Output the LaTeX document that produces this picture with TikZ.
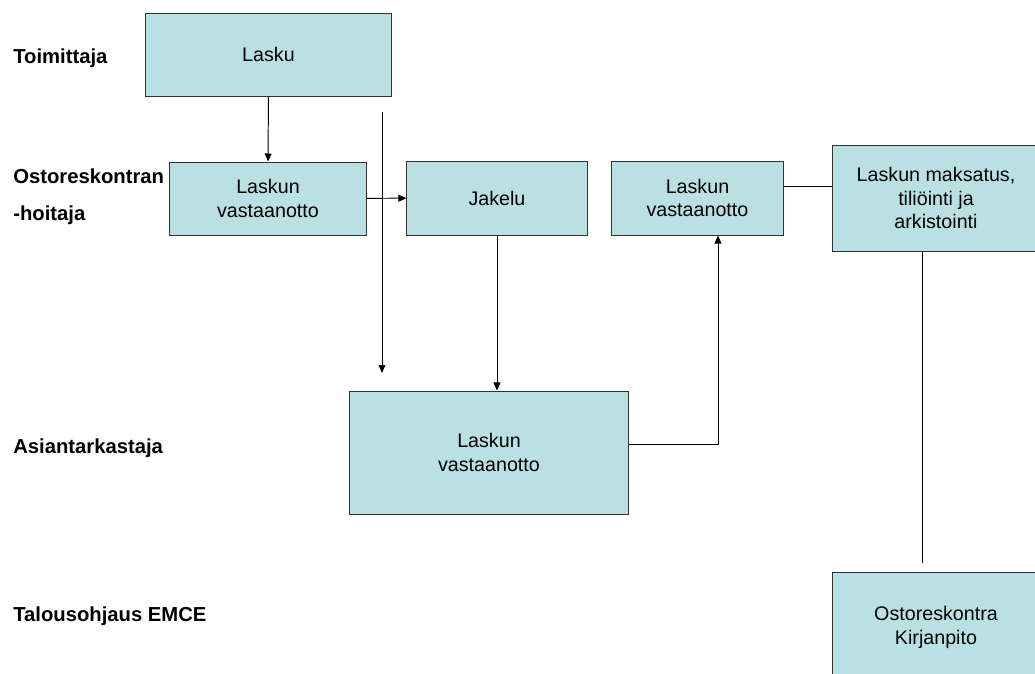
\documentclass[tikz,border=0pt]{standalone}
\usepackage{fontspec}
\setmainfont{Liberation Sans}
\usepackage{xcolor}
\usepackage{tikz}
\usetikzlibrary{arrows.meta, positioning}

\definecolor{boxfill}{RGB}{186,224,227}
\definecolor{boxline}{RGB}{50,50,50}

\begin{document}
\begin{tikzpicture}[
    x=0.025cm, y=-0.025cm,
    box/.style={rectangle, draw=boxline, fill=boxfill, line width=0.7pt, align=center, inner sep=0pt, font=\fontsize{14}{17}\selectfont},
    lane/.style={anchor=base west, inner sep=0pt, font=\fontsize{14.4}{17}\selectfont\bfseries},
    arrow/.style={-{Triangle[length=0.2cm, width=0.17cm]}, line width=0.7pt},
    line/.style={line width=0.7pt}
]
\useasboundingbox (0,0) rectangle (1035,673);

% Lanes
\node[lane] (toim) at (13,63) {Toimittaja};
\node[lane] (osto1) at (13,183) {Ostoreskontran};
\node[lane] (osto2) at (13,220) {-hoitaja};
\node[lane] (asia) at (13,453) {Asiantarkastaja};
\node[lane] (talous) at (13,621) {Talousohjaus EMCE};

% Row 1: Toimittaja
\node[box, minimum width=6.125cm, minimum height=2.075cm] (lasku) at (268.5,54.5) {Lasku};

% Row 2: Ostoreskontranhoitaja
\node[box, minimum width=4.9cm, minimum height=1.825cm] (vast1) at (268,198.5) {Laskun\\vastaanotto};
\node[box, minimum width=4.5cm, minimum height=1.85cm] (jakelu) at (497,198) {Jakelu};
\node[box, minimum width=4.275cm, minimum height=1.85cm] (vast2) at (697.5,198) {Laskun\\vastaanotto};
\node[box, minimum width=5.15cm, minimum height=2.65cm] (maksu) at (936,198) {Laskun maksatus,\\tiliöinti ja\\arkistointi};

% Row 3: Asiantarkastaja
\node[box, minimum width=6.95cm, minimum height=3.075cm] (tark) at (489,452.5) {Laskun\\vastaanotto};

% Row 4: Talousohjaus
\node[box, minimum width=5.15cm, minimum height=2.75cm] (kirja) at (936,627) {Ostoreskontra\\Kirjanpito};

% Free line
\coordinate (vtop) at (382,112);
\coordinate (vbot) at (382,373);

% Arrows
\draw[arrow] (lasku) -- (vast1);
\draw[arrow] (vast1) -- (jakelu);
\draw[arrow] (vtop) -- (vbot);
\draw[arrow] (jakelu.south) -- (jakelu.south |- tark.north);
\draw[arrow] ([yshift=0.2125cm]tark.east) -| ([xshift=0.5125cm]vast2.south);
\draw[line] ([yshift=0.3cm]vast2.east) -- ([yshift=0.3cm]vast2.east -| maksu.west);
\draw[line] ([xshift=-0.35cm]maksu.south) -- ([xshift=-0.35cm, yshift=0.225cm]kirja.north);

\end{tikzpicture}
\end{document}
